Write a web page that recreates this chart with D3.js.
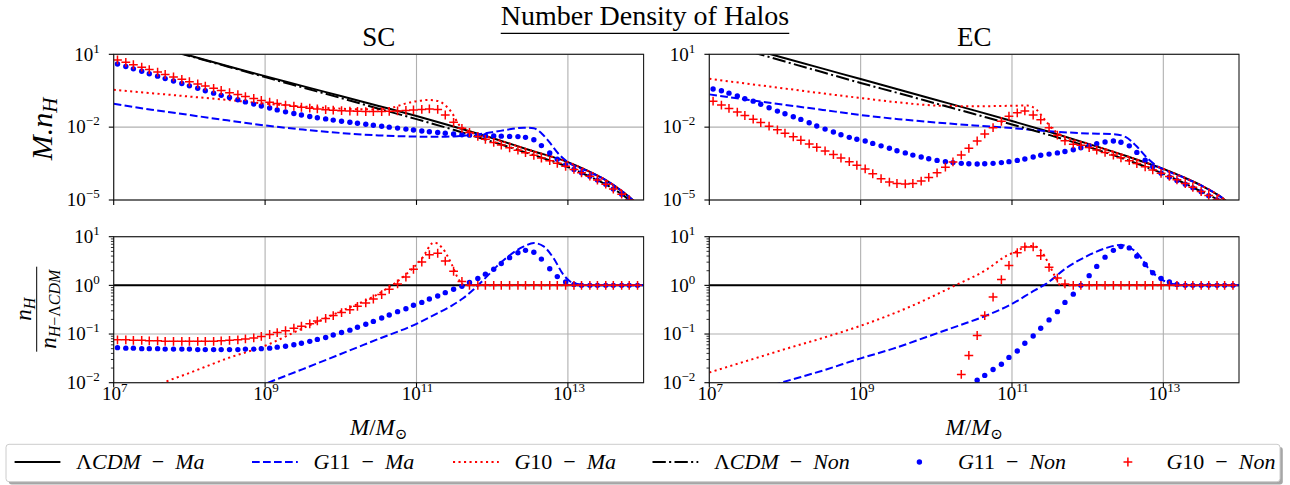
<!DOCTYPE html>
<html>
<head>
<meta charset="utf-8">
<script src="https://cdn.jsdelivr.net/npm/d3@7/dist/d3.min.js"></script>
<style>
    body { margin: 0; background: #fff; }
    text { font-family: "Liberation Serif", "DejaVu Serif", serif; fill: #000; }
</style>
</head>
<body>
<div id="chart"></div>
<script>
// all values are log10: x = log10(M/Msun), y = log10(M.n_H) or log10(ratio)

var xTicks = [7, 9, 11, 13];
var topYTicks = [-5, -2, 1];
var ratioYTicks = [-2, -1, 0, 1];

var legendLabels = ["ΛCDM − Ma", "G11 − Ma", "G10 − Ma", "ΛCDM − Non", "G11 − Non", "G10 − Non"];

// ---------- SC, upper panel ----------
var scLcdmMa = [[7, 1.8], [7.5, 1.37], [8, 0.95], [8.5, 0.52], [9, 0.1], [9.5, -0.31], [10, -0.72], [10.5, -1.13],
    [11, -1.54], [11.5, -1.98], [12, -2.45], [12.5, -2.95], [13, -3.44], [13.25, -3.78], [13.5, -4.18], [13.75, -4.72], [14, -5.4]];
var scG11Ma = [[7, -1.04], [7.5, -1.28], [8, -1.5], [8.5, -1.72], [9, -1.93], [9.5, -2.1], [10, -2.24], [10.5, -2.34],
    [11, -2.39], [11.25, -2.4], [11.5, -2.38], [11.75, -2.32], [12, -2.21], [12.25, -2.08], [12.42, -2.02], [12.55, -2.05],
    [12.65, -2.25], [12.75, -2.6], [12.9, -3.18], [13.03, -3.5], [13.25, -3.8], [13.5, -4.18], [13.75, -4.72], [14, -5.4]];
var scG10Ma = [[7, -0.46], [7.5, -0.6], [8, -0.74], [8.5, -0.88], [9, -1.03], [9.5, -1.15], [10, -1.24], [10.5, -1.27],
    [10.7, -1.18], [10.85, -1.03], [11, -0.93], [11.16, -0.88], [11.28, -0.92], [11.38, -1.1], [11.47, -1.42], [11.56, -1.9],
    [11.66, -2.12], [12, -2.45], [12.5, -2.95], [13, -3.44], [13.25, -3.78], [13.5, -4.18], [13.75, -4.72], [14, -5.4]];
var scLcdmNon = [[7, 1.79], [7.5, 1.36], [8, 0.93], [8.5, 0.5], [9, 0.06], [9.5, -0.37], [10, -0.8], [10.5, -1.24],
    [11, -1.67], [11.5, -2.12], [12, -2.6], [12.5, -3.1], [13, -3.64], [13.25, -3.98], [13.5, -4.36], [13.75, -4.85], [14, -5.5]];

// masses of the marker points of the "Non" runs
var markLogM = [7.05, 7.16, 7.26, 7.37, 7.47, 7.58, 7.68, 7.79, 7.90, 8.00,
    8.11, 8.21, 8.32, 8.42, 8.53, 8.64, 8.74, 8.85, 8.95, 9.06,
    9.16, 9.27, 9.38, 9.48, 9.59, 9.69, 9.80, 9.90, 10.01, 10.12,
    10.22, 10.33, 10.43, 10.54, 10.64, 10.75, 10.86, 10.96, 11.07, 11.17,
    11.28, 11.38, 11.49, 11.60, 11.70, 11.81, 11.91, 12.02, 12.12, 12.23,
    12.34, 12.44, 12.55, 12.65, 12.76, 12.86, 12.97, 13.08, 13.18, 13.29,
    13.39, 13.50, 13.60, 13.71, 13.81, 13.92];

var scG11Non = [0.60, 0.50, 0.40, 0.30, 0.20, 0.10, 0.00, -0.10, -0.20, -0.30,
    -0.40, -0.50, -0.60, -0.69, -0.78, -0.87, -0.96, -1.05, -1.13, -1.21,
    -1.29, -1.37, -1.44, -1.50, -1.56, -1.61, -1.66, -1.71, -1.76, -1.80,
    -1.84, -1.88, -1.92, -1.96, -2.00, -2.04, -2.08, -2.12, -2.16, -2.19,
    -2.22, -2.25, -2.28, -2.31, -2.33, -2.34, -2.35, -2.36, -2.37, -2.38,
    -2.39, -2.42, -2.52, -2.76, -3.06, -3.32, -3.56, -3.74, -3.88, -4.02,
    -4.18, -4.35, -4.55, -4.76, -5.00, -5.28];
var scG10Non = [0.77, 0.67, 0.57, 0.47, 0.37, 0.27, 0.17, 0.07, -0.03, -0.13,
    -0.22, -0.31, -0.40, -0.49, -0.58, -0.66, -0.74, -0.82, -0.90, -0.97,
    -1.03, -1.09, -1.14, -1.18, -1.22, -1.25, -1.28, -1.30, -1.32, -1.34,
    -1.35, -1.36, -1.36, -1.36, -1.35, -1.33, -1.31, -1.29, -1.27, -1.25,
    -1.27, -1.50, -1.80, -2.05, -2.22, -2.38, -2.50, -2.63, -2.74, -2.85,
    -2.95, -3.05, -3.16, -3.27, -3.38, -3.49, -3.61, -3.74, -3.88, -4.02,
    -4.18, -4.35, -4.55, -4.76, -5.00, -5.28];

// ---------- SC, ratio panel ----------
var ratioLcdm = [[7, 0], [14, 0]];
var scRatioG11Ma = [[8.5, -2.35], [9.04, -2.0], [9.5, -1.72], [10, -1.41], [10.5, -1.1], [11, -0.79], [11.18, -0.65],
    [11.45, -0.43], [11.62, -0.26], [11.75, -0.09], [11.89, 0.12], [12.06, 0.39], [12.24, 0.63], [12.42, 0.8], [12.55, 0.87],
    [12.68, 0.8], [12.81, 0.56], [12.94, 0.22], [13.03, 0.08], [13.15, 0.02], [13.3, 0], [14, 0]];
var scRatioG10Ma = [[7.5, -2.12], [7.66, -2.0], [8, -1.8], [8.5, -1.5], [9, -1.24], [9.5, -0.88], [10, -0.53], [10.5, -0.17],
    [10.85, 0.21], [11.07, 0.55], [11.23, 0.88], [11.34, 0.77], [11.46, 0.45], [11.55, 0.14], [11.64, 0], [14, 0]];
var scRatioG11Non = [-1.28, -1.29, -1.29, -1.30, -1.30, -1.30, -1.31, -1.31, -1.31, -1.31,
    -1.32, -1.32, -1.32, -1.32, -1.32, -1.32, -1.31, -1.31, -1.30, -1.29,
    -1.27, -1.25, -1.22, -1.19, -1.15, -1.11, -1.07, -1.02, -0.97, -0.92,
    -0.86, -0.80, -0.74, -0.67, -0.61, -0.54, -0.48, -0.41, -0.35, -0.28,
    -0.22, -0.15, -0.08, -0.02, 0.06, 0.14, 0.23, 0.33, 0.45, 0.57,
    0.67, 0.72, 0.68, 0.54, 0.34, 0.18, 0.07, 0.02, 0, 0,
    0, 0, 0, 0, 0, 0];
var scRatioG10Non = [-1.12, -1.12, -1.13, -1.13, -1.14, -1.14, -1.15, -1.15, -1.15, -1.15,
    -1.15, -1.15, -1.15, -1.14, -1.13, -1.12, -1.10, -1.08, -1.05, -1.01,
    -0.97, -0.93, -0.88, -0.84, -0.79, -0.73, -0.68, -0.62, -0.56, -0.50,
    -0.43, -0.36, -0.28, -0.19, -0.08, 0.03, 0.17, 0.33, 0.48, 0.63,
    0.66, 0.50, 0.29, 0.08, 0, 0, 0, 0, 0, 0,
    0, 0, 0, 0, 0, 0, 0, 0, 0, 0,
    0, 0, 0, 0, 0, 0];

// ---------- EC, upper panel ----------
var ecLcdmMa = [[7, 1.7], [7.5, 1.27], [8, 0.84], [8.5, 0.41], [9, -0.02], [9.5, -0.45], [10, -0.88], [10.5, -1.31],
    [11, -1.75], [11.5, -2.2], [12, -2.68], [12.5, -3.18], [13, -3.72], [13.25, -4.04], [13.5, -4.4], [13.75, -4.85], [14, -5.5]];
var ecG11Ma = [[7, -0.65], [7.5, -0.87], [8, -1.08], [8.5, -1.29], [9, -1.5], [9.5, -1.67], [10, -1.81], [10.5, -1.93],
    [11, -2.04], [11.5, -2.17], [12, -2.26], [12.35, -2.29], [12.5, -2.4], [12.65, -2.8], [12.78, -3.25], [12.91, -3.59],
    [13, -3.74], [13.25, -4.05], [13.5, -4.4], [13.75, -4.85], [14, -5.5]];
var ecG10Ma = [[7, -0.01], [7.5, -0.21], [8, -0.41], [8.5, -0.61], [9, -0.8], [9.5, -0.98], [10, -1.11], [10.5, -1.14],
    [11, -1.12], [11.2, -1.11], [11.32, -1.27], [11.43, -1.68], [11.54, -2.09], [11.68, -2.37], [12, -2.68], [12.5, -3.18],
    [13, -3.72], [13.25, -4.04], [13.5, -4.4], [13.75, -4.85], [14, -5.5]];
var ecLcdmNon = [[7, 1.6], [7.5, 1.15], [8, 0.7], [8.5, 0.26], [9, -0.18], [9.5, -0.6], [10, -1.03], [10.5, -1.46],
    [11, -1.89], [11.5, -2.33], [12, -2.8], [12.5, -3.33], [13, -3.92], [13.25, -4.27], [13.5, -4.65], [13.75, -5.05], [14, -5.7]];
var ecG11Non = [-0.43, -0.50, -0.60, -0.72, -0.83, -0.93, -1.06, -1.20, -1.34, -1.45,
    -1.57, -1.68, -1.82, -1.95, -2.08, -2.20, -2.31, -2.42, -2.50, -2.57,
    -2.67, -2.77, -2.87, -2.97, -3.06, -3.15, -3.23, -3.30, -3.37, -3.42,
    -3.46, -3.49, -3.51, -3.52, -3.51, -3.49, -3.46, -3.42, -3.37, -3.31,
    -3.23, -3.16, -3.11, -3.06, -3.00, -2.93, -2.85, -2.77, -2.68, -2.61,
    -2.57, -2.62, -2.77, -3.04, -3.36, -3.63, -3.90, -4.05, -4.20, -4.35,
    -4.50, -4.66, -4.82, -5.00, -5.20, -5.45];
var ecG10Non = [-0.93, -1.09, -1.23, -1.38, -1.52, -1.67, -1.81, -1.96, -2.11, -2.25,
    -2.40, -2.54, -2.69, -2.83, -2.98, -3.13, -3.27, -3.42, -3.57, -3.72,
    -3.92, -4.12, -4.26, -4.32, -4.34, -4.32, -4.22, -4.07, -3.88, -3.65,
    -3.43, -3.15, -2.87, -2.57, -2.28, -2.02, -1.76, -1.55, -1.41, -1.33,
    -1.50, -1.70, -2.02, -2.33, -2.56, -2.70, -2.75, -2.84, -2.94, -3.04,
    -3.15, -3.26, -3.38, -3.50, -3.63, -3.76, -3.90, -4.03, -4.17, -4.32,
    -4.48, -4.65, -4.81, -4.98, -5.15, -5.40];

// ---------- EC, ratio panel ----------
var ecRatioG11Ma = [[7.7, -2.12], [7.95, -2.0], [8.5, -1.75], [9, -1.5], [9.43, -1.3], [9.87, -1.06], [10.31, -0.82],
    [10.63, -0.64], [11, -0.38], [11.28, -0.12], [11.45, 0.03], [11.72, 0.36], [11.99, 0.6], [12.25, 0.77], [12.43, 0.83],
    [12.65, 0.67], [12.82, 0.32], [12.98, 0.12], [13.09, 0.04], [13.3, 0], [14, 0]];
var ecRatioG10Ma = [[7, -1.79], [7.5, -1.55], [8, -1.31], [8.5, -1.08], [9, -0.83], [9.65, -0.44], [10.25, 0.0], [10.66, 0.32],
    [10.93, 0.61], [11.06, 0.7], [11.19, 0.8], [11.28, 0.81], [11.39, 0.7], [11.48, 0.46], [11.57, 0.18], [11.64, 0], [14, 0]];
var ecRatioG11Non = [null, null, null, null, null, null, null, null, null, null,
    null, null, null, null, null, null, null, null, null, null,
    null, null, null, null, null, null, null, null, null, null,
    null, null, null, -1.95, -1.85, -1.73, -1.62, -1.48, -1.35, -1.19,
    -1.04, -0.88, -0.71, -0.54, -0.35, -0.18, 0.00, 0.20, 0.39, 0.58,
    0.72, 0.80, 0.77, 0.60, 0.43, 0.26, 0.14, 0.07, 0.02, 0,
    0, 0, 0, 0, 0, 0];
var ecRatioG10Non = [null, null, null, null, null, null, null, null, null, null,
    null, null, null, null, null, null, null, null, null, null,
    null, null, null, null, null, null, null, null, null, null,
    null, -1.83, -1.44, -1.03, -0.62, -0.24, 0.12, 0.41, 0.67, 0.79,
    0.79, 0.61, 0.37, 0.15, 0.03, 0, 0, 0, 0, 0,
    0, 0, 0, 0, 0, 0, 0, 0, 0, 0,
    0, 0, 0, 0, 0, 0];

// ---------------------------------------------------------------

var width = 1290, height = 485;
var blue = "#0000ff", red = "#ff0000";

var lineStyle = {
    lcdmMa: {color: "#000", dash: null},
    g11Ma: {color: blue, dash: "7.7,3.3"},
    g10Ma: {color: red, dash: "2.1,3.4"},
    lcdmNon: {color: "#000", dash: "13.3,3.3,2.1,3.3"}
};

var panels = [
    {name: "SC", left: 113.7, right: 643.6,
        top: {lines: [["lcdmMa", scLcdmMa], ["g11Ma", scG11Ma], ["g10Ma", scG10Ma], ["lcdmNon", scLcdmNon]],
            dots: scG11Non, plus: scG10Non},
        ratio: {lines: [["lcdmMa", ratioLcdm], ["g11Ma", scRatioG11Ma], ["g10Ma", scRatioG10Ma]],
            dots: scRatioG11Non, plus: scRatioG10Non}},
    {name: "EC", left: 709.3, right: 1239,
        top: {lines: [["lcdmMa", ecLcdmMa], ["g11Ma", ecG11Ma], ["g10Ma", ecG10Ma], ["lcdmNon", ecLcdmNon]],
            dots: ecG11Non, plus: ecG10Non},
        ratio: {lines: [["lcdmMa", ratioLcdm], ["g11Ma", ecRatioG11Ma], ["g10Ma", ecRatioG10Ma]],
            dots: ecRatioG11Non, plus: ecRatioG10Non}}
];

var topRow = {y0: 54.3, y1: 200, domain: [1e-5, 1e1], ticks: topYTicks, minor: false};
var ratioRow = {y0: 236.7, y1: 382.7, domain: [1e-2, 1e1], ticks: ratioYTicks, minor: true};

var svg = d3.select("#chart").append("svg")
    .attr("width", width)
    .attr("height", height);

var defs = svg.append("defs");
var clipCount = 0;

function pow10(v) {
    return Math.pow(10, v);
}

// text like "10^-2" with a raised exponent
function powLabel(sel, e) {
    sel.append("tspan").text("10");
    sel.append("tspan")
        .attr("dy", -8)
        .attr("font-size", 13)
        .text(e < 0 ? "\u2212" + (-e) : e);
}

// letters in italic, digits / greek / operators upright, like TeX math
function mathText(sel, str) {
    var runs = str.replace(/ \u2212 /g, "\u2002\u2212\u2002").match(/[A-Za-z]+|[^A-Za-z]+/g);
    runs.forEach(function (r) {
        sel.append("tspan")
            .attr("font-style", /[A-Za-z]/.test(r) ? "italic" : "normal")
            .text(r);
    });
}

var plusPath = "M-4.4,0H4.4M0,-4.4V4.4";

function drawPanel(p, row, data, showXLabels) {
    var x = d3.scaleLog().domain([1e7, 1e14]).range([p.left, p.right]);
    var y = d3.scaleLog().domain(row.domain).range([row.y1, row.y0]);
    var g = svg.append("g");

    var clipId = "clip" + (clipCount++);
    defs.append("clipPath").attr("id", clipId)
        .append("rect")
        .attr("x", p.left)
        .attr("y", row.y0)
        .attr("width", p.right - p.left)
        .attr("height", row.y1 - row.y0);

    // grid
    g.selectAll(".gx")
        .data(xTicks)
        .enter().append("line")
        .attr("x1", function (d) { return x(pow10(d)); })
        .attr("x2", function (d) { return x(pow10(d)); })
        .attr("y1", row.y0)
        .attr("y2", row.y1)
        .attr("stroke", "#b0b0b0")
        .attr("stroke-width", 1.1);
    g.selectAll(".gy")
        .data(row.ticks)
        .enter().append("line")
        .attr("x1", p.left)
        .attr("x2", p.right)
        .attr("y1", function (d) { return y(pow10(d)); })
        .attr("y2", function (d) { return y(pow10(d)); })
        .attr("stroke", "#b0b0b0")
        .attr("stroke-width", 1.1);

    var plot = g.append("g").attr("clip-path", "url(#" + clipId + ")");

    var line = d3.line()
        .x(function (d) { return x(pow10(d[0])); })
        .y(function (d) { return y(pow10(d[1])); })
        .curve(d3.curveMonotoneX);

    data.lines.forEach(function (l) {
        var st = lineStyle[l[0]];
        plot.append("path")
            .datum(l[1])
            .attr("d", line)
            .attr("fill", "none")
            .attr("stroke", st.color)
            .attr("stroke-width", 2)
            .attr("stroke-dasharray", st.dash);
    });

    function markPoints(vals) {
        return markLogM.map(function (m, i) { return [m, vals[i]]; })
            .filter(function (d) { return d[1] !== null; });
    }

    plot.selectAll(".dot")
        .data(markPoints(data.dots))
        .enter().append("circle")
        .attr("cx", function (d) { return x(pow10(d[0])); })
        .attr("cy", function (d) { return y(pow10(d[1])); })
        .attr("r", 2.7)
        .attr("fill", blue);

    plot.selectAll(".plus")
        .data(markPoints(data.plus))
        .enter().append("path")
        .attr("d", plusPath)
        .attr("transform", function (d) {
            return "translate(" + x(pow10(d[0])) + "," + y(pow10(d[1])) + ")";
        })
        .attr("stroke", red)
        .attr("stroke-width", 1.5)
        .attr("fill", "none");

    // frame
    g.append("rect")
        .attr("x", p.left)
        .attr("y", row.y0)
        .attr("width", p.right - p.left)
        .attr("height", row.y1 - row.y0)
        .attr("fill", "none")
        .attr("stroke", "#1a1a1a")
        .attr("stroke-width", 1.1);

    // ticks
    g.selectAll(".tx")
        .data(xTicks)
        .enter().append("line")
        .attr("x1", function (d) { return x(pow10(d)); })
        .attr("x2", function (d) { return x(pow10(d)); })
        .attr("y1", row.y1)
        .attr("y2", row.y1 + 4.9)
        .attr("stroke", "#000")
        .attr("stroke-width", 1.1);
    g.selectAll(".ty")
        .data(row.ticks)
        .enter().append("line")
        .attr("x1", p.left - 4.9)
        .attr("x2", p.left)
        .attr("y1", function (d) { return y(pow10(d)); })
        .attr("y2", function (d) { return y(pow10(d)); })
        .attr("stroke", "#000")
        .attr("stroke-width", 1.1);

    if (row.minor) {
        var minor = [];
        row.ticks.slice(0, -1).forEach(function (e) {
            d3.range(2, 10).forEach(function (k) { minor.push(k * pow10(e)); });
        });
        g.selectAll(".tm")
            .data(minor)
            .enter().append("line")
            .attr("x1", p.left - 2.8)
            .attr("x2", p.left)
            .attr("y1", function (d) { return y(d); })
            .attr("y2", function (d) { return y(d); })
            .attr("stroke", "#000")
            .attr("stroke-width", 0.8);
    }

    g.selectAll(".ly")
        .data(row.ticks)
        .enter().append("text")
        .attr("x", p.left - 14)
        .attr("y", function (d) { return y(pow10(d)) + 6.3; })
        .attr("text-anchor", "end")
        .attr("font-size", 19)
        .each(function (d) { powLabel(d3.select(this), d); });

    if (showXLabels) {
        g.selectAll(".lx")
            .data(xTicks)
            .enter().append("text")
            .attr("x", function (d) { return x(pow10(d)) + 1; })
            .attr("y", 400)
            .attr("text-anchor", "middle")
            .attr("font-size", 19)
            .each(function (d) { powLabel(d3.select(this), d); });

        var xl = g.append("text")
            .attr("x", (p.left + p.right) / 2)
            .attr("y", 435)
            .attr("text-anchor", "middle")
            .attr("font-size", 23);
        xl.append("tspan").attr("font-style", "italic").text("M");
        xl.append("tspan").text("/");
        xl.append("tspan").attr("font-style", "italic").text("M");
        xl.append("tspan").attr("dy", 4).attr("font-size", 15).text("\u2299");
    }
}

panels.forEach(function (p) {
    drawPanel(p, topRow, p.top, false);
    drawPanel(p, ratioRow, p.ratio, true);

    svg.append("text")
        .attr("x", (p.left + p.right) / 2)
        .attr("y", 46)
        .attr("text-anchor", "middle")
        .attr("font-size", 27)
        .text(p.name);
});

// main title, underlined
var title = svg.append("text")
    .attr("x", 645)
    .attr("y", 25)
    .attr("text-anchor", "middle")
    .attr("font-size", 28)
    .text("Number Density of Halos");
var tb = title.node().getBBox();
svg.append("line")
    .attr("x1", tb.x)
    .attr("x2", tb.x + tb.width)
    .attr("y1", 33.3)
    .attr("y2", 33.3)
    .attr("stroke", "#000")
    .attr("stroke-width", 1.2);

// y label, upper row
var yl = svg.append("text")
    .attr("transform", "translate(51.5,129) rotate(-90)")
    .attr("text-anchor", "middle")
    .attr("font-size", 30)
    .attr("font-style", "italic");
yl.append("tspan").text("M.n");
yl.append("tspan").attr("dy", 5).attr("font-size", 21).text("H");

// y label, ratio row: n_H / n_{H-ΛCDM}
var frac = svg.append("g").attr("transform", "translate(36.7,309.2) rotate(-90)");
frac.append("line")
    .attr("x1", -42.5)
    .attr("x2", 42.5)
    .attr("stroke", "#000")
    .attr("stroke-width", 1);
var num = frac.append("text")
    .attr("y", -6)
    .attr("text-anchor", "middle")
    .attr("font-size", 23);
num.append("tspan").attr("font-style", "italic").text("n");
num.append("tspan").attr("dy", 4).attr("font-size", 16).attr("font-style", "italic").text("H");
var den = frac.append("text")
    .attr("y", 19)
    .attr("text-anchor", "middle")
    .attr("font-size", 23);
den.append("tspan").attr("font-style", "italic").text("n");
var sub = den.append("tspan").attr("dy", 4).attr("font-size", 16);
sub.append("tspan").attr("font-style", "italic").text("H");
sub.append("tspan").text("\u2212\u039B");
sub.append("tspan").attr("font-style", "italic").text("CDM");

// legend
var legend = svg.append("g");
legend.append("rect")
    .attr("x", 8.8)
    .attr("y", 447.1)
    .attr("width", 1274)
    .attr("height", 37.4)
    .attr("rx", 3)
    .attr("fill", "#4d4d4d")
    .attr("opacity", 0.5);
legend.append("rect")
    .attr("x", 6)
    .attr("y", 444.3)
    .attr("width", 1274)
    .attr("height", 37.4)
    .attr("rx", 3)
    .attr("fill", "#fff")
    .attr("stroke", "#cccccc")
    .attr("stroke-width", 1);

var legendKeys = ["lcdmMa", "g11Ma", "g10Ma", "lcdmNon", "dots", "plus"];
var legendCols = [14.6, 252, 453, 652.5, 896.5, 1105];
var legendY = 462;

legendKeys.forEach(function (k, i) {
    var x0 = legendCols[i];
    if (lineStyle[k]) {
        legend.append("line")
            .attr("x1", x0)
            .attr("x2", x0 + 45.8)
            .attr("y1", legendY)
            .attr("y2", legendY)
            .attr("stroke", lineStyle[k].color)
            .attr("stroke-width", 2)
            .attr("stroke-dasharray", lineStyle[k].dash);
    } else if (k === "dots") {
        legend.append("circle")
            .attr("cx", x0 + 22.9)
            .attr("cy", legendY)
            .attr("r", 2.7)
            .attr("fill", blue);
    } else {
        legend.append("path")
            .attr("d", plusPath)
            .attr("transform", "translate(" + (x0 + 22.9) + "," + legendY + ")")
            .attr("stroke", red)
            .attr("stroke-width", 1.5);
    }
    var t = legend.append("text")
        .attr("x", x0 + 61.4)
        .attr("y", legendY + 6.5)
        .attr("font-size", 22);
    mathText(t, legendLabels[i]);
});
</script>
</body>
</html>
